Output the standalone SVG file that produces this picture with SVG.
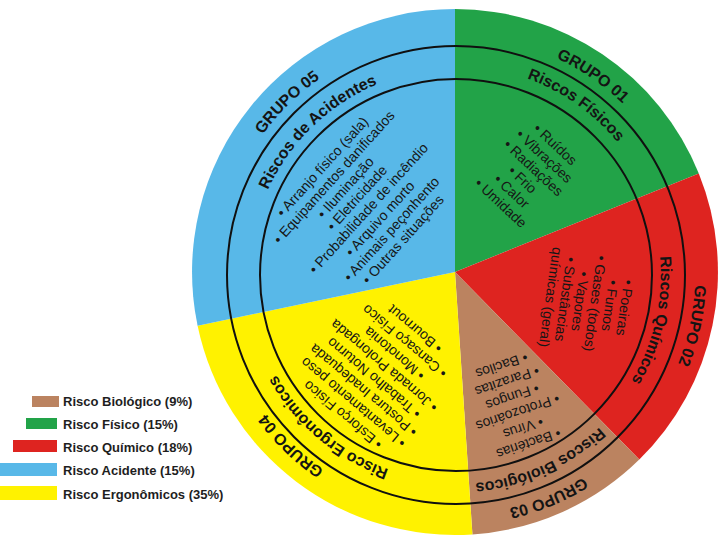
<svg xmlns="http://www.w3.org/2000/svg" width="720" height="540" viewBox="0 0 720 540">
<style>
  .ttl { font-family: "Liberation Sans", Arial, sans-serif; font-weight: bold; font-size: 16px; fill: #141414; }
  .lst { font-family: "Liberation Sans", Arial, sans-serif; font-size: 14px; fill: #161616; text-anchor: middle; }
  .leg { font-family: "Liberation Sans", Arial, sans-serif; font-weight: bold; font-size: 13px; fill: #1e1e1e; }
  .ring { fill: none; stroke: #101010; stroke-width: 2; }
</style>
<defs>
  <path id="a01" d="M285.5,107.5 A239,239 0 0 1 673.5,374.1"/>
  <path id="b01" d="M308.7,126.7 A209,209 0 0 1 645.1,364"/>
  <path id="a02" d="M506.1,41.3 A239,239 0 0 1 405.9,508.7"/>
  <path id="b02" d="M503,71.4 A209,209 0 0 1 409,478.6"/>
  <path id="a03" d="M676.8,183.5 A239,239 0 0 1 235.2,366.5"/>
  <path id="b03" d="M646.5,189 A209,209 0 0 1 265.5,361"/>
  <path id="a04" d="M627.9,441 A239,239 0 0 1 284.1,109"/>
  <path id="b04" d="M616.1,409.3 A209,209 0 0 1 295.9,140.7"/>
  <path id="a05" d="M285.2,442.2 A239,239 0 0 1 626.8,107.8"/>
  <path id="b05" d="M305.7,420.2 A209,209 0 0 1 606.3,129.8"/>
</defs>
<rect width="720" height="540" fill="#ffffff"/>

<g id="grupo01-fisico">
  <path d="M455,272 L455,9 A263,263 0 0 1 698.8,173.5 Z" fill="#22A348"/>
</g>
<g id="grupo02-quimico">
  <path d="M455,272 L698.8,173.5 A263,263 0 0 1 639.3,459.6 Z" fill="#DE2420"/>
</g>
<g id="grupo03-biologico">
  <path d="M455,272 L639.3,459.6 A263,263 0 0 1 472.4,534.4 Z" fill="#BB8360"/>
</g>
<g id="grupo04-ergonomico">
  <path d="M455,272 L472.4,534.4 A263,263 0 0 1 197.6,325.8 Z" fill="#FFF200"/>
</g>
<g id="grupo05-acidente">
  <path d="M455,272 L197.6,325.8 A263,263 0 0 1 455,9 Z" fill="#58B8E8"/>
</g>

<g id="connectors">
  <circle class="ring" cx="456" cy="275" r="229"/>
  <circle class="ring" cx="456" cy="275" r="196"/>
</g>

<g id="labels-grupo01">
  <text class="ttl"><textPath href="#a01" startOffset="50%" text-anchor="middle">GRUPO 01</textPath></text>
  <text class="ttl"><textPath href="#b01" startOffset="50%" text-anchor="middle">Riscos Físicos</textPath></text>
  <g class="lst" transform="translate(552,148) rotate(43)">
    <text x="0" y="0">• Ruídos</text>
    <text x="0" y="16">• Vibrações</text>
    <text x="0" y="32">• Radiações</text>
    <text x="0" y="48">• Frio</text>
    <text x="0" y="64">• Calor</text>
    <text x="0" y="80">• Umidade</text>
  </g>
</g>
<g id="labels-grupo02">
  <text class="ttl"><textPath href="#a02" startOffset="50%" text-anchor="middle">GRUPO 02</textPath></text>
  <text class="ttl"><textPath href="#b02" startOffset="50%" text-anchor="middle">Riscos Químicos</textPath></text>
  <g class="lst" transform="translate(620,307) rotate(98)">
    <text x="0" y="0">• Poeiras</text>
    <text x="0" y="15">• Fumos</text>
    <text x="0" y="30">• Gases (todos)</text>
    <text x="0" y="45">• Vapores</text>
    <text x="0" y="60">• Substâncias</text>
    <text x="0" y="75">químicas (geral)</text>
  </g>
</g>
<g id="labels-grupo03">
  <text class="ttl"><textPath href="#a03" startOffset="50%" text-anchor="middle">GRUPO 03</textPath></text>
  <text class="ttl"><textPath href="#b03" startOffset="50%" text-anchor="middle">Riscos Biológicos</textPath></text>
  <g class="lst" transform="translate(527,439) rotate(161)">
    <text x="0" y="0">• Bactérias</text>
    <text x="0" y="16.5">• Vírus</text>
    <text x="0" y="33">• Protozoários</text>
    <text x="0" y="49.5">• Fungos</text>
    <text x="0" y="66">• Parazitas</text>
    <text x="0" y="82.5">• Bacilos</text>
  </g>
</g>
<g id="labels-grupo04">
  <text class="ttl"><textPath href="#a04" startOffset="50%" text-anchor="middle">GRUPO 04</textPath></text>
  <text class="ttl"><textPath href="#b04" startOffset="50%" text-anchor="middle">Risco Ergonômicos</textPath></text>
  <g class="lst" transform="translate(346,411) rotate(220)">
    <text x="0" y="0">• Esforço Físico</text>
    <text x="0" y="16">• Levantamento peso</text>
    <text x="0" y="32">• Postura Inadequada</text>
    <text x="0" y="48">• Trabalho Noturno</text>
    <text x="0" y="64">• Jornada Prolongada</text>
    <text x="0" y="80">• Monotonia</text>
    <text x="0" y="96">• Cansaço Físico</text>
    <text x="0" y="112">• Bournout</text>
  </g>
</g>
<g id="labels-grupo05">
  <text class="ttl"><textPath href="#a05" startOffset="50%" text-anchor="middle">GRUPO 05</textPath></text>
  <text class="ttl"><textPath href="#b05" startOffset="50%" text-anchor="middle">Riscos de Acidentes</textPath></text>
  <g class="lst" transform="translate(326,170) rotate(-48)">
    <text x="0" y="0">• Arranjo físico (sala)</text>
    <text x="0" y="15.5">• Equipamentos danificados</text>
    <text x="0" y="31">• Iluminação</text>
    <text x="0" y="46.5">• Eletricidade</text>
    <text x="0" y="62">• Probabilidade de incêndio</text>
    <text x="0" y="77.5">• Arquivo morto</text>
    <text x="0" y="93">• Animais peçonhento</text>
    <text x="0" y="108.5">• Outras situações</text>
  </g>
</g>

<g id="legend">
  <rect x="32" y="396" width="27" height="11" fill="#BB8360"/>
  <text class="leg" x="63" y="406">Risco Biológico (9%)</text>
  <rect x="26" y="418" width="31" height="11" fill="#22A348"/>
  <text class="leg" x="63" y="428.5">Risco Físico (15%)</text>
  <rect x="13" y="440" width="44" height="12" fill="#DE2420"/>
  <text class="leg" x="63" y="452">Risco Químico (18%)</text>
  <rect x="0" y="463" width="57" height="13" fill="#58B8E8"/>
  <text class="leg" x="63" y="475">Risco Acidente (15%)</text>
  <rect x="0" y="486" width="57" height="14" fill="#FFF200"/>
  <text class="leg" x="63" y="499">Risco Ergonômicos (35%)</text>
</g>
</svg>
